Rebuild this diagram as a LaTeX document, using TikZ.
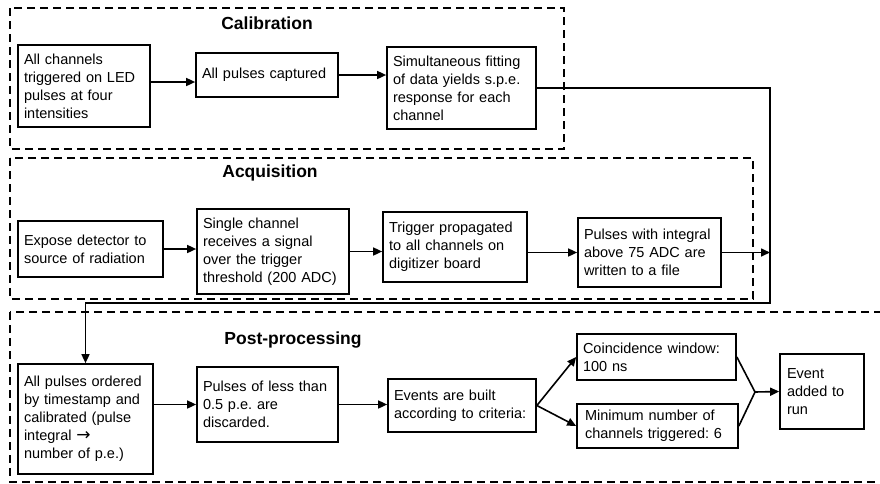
\documentclass[tikz,border=0pt]{standalone}
\usepackage{fontspec}
\setmainfont{Liberation Sans}
\newfontfamily\arrowfont{DejaVu Sans}
\usepackage{tikz}
\usetikzlibrary{arrows.meta}
\frenchspacing
\newcommand{\stageframe}[4]{\draw[frame] ( #1 , #2 ) rectangle ( #3 , #4 );}
\tikzset{
  frame/.style={line width=2pt, dash pattern=on 8pt off 5pt},
  stepbox/.style={draw, line width=1.7pt, align=left, inner sep=6pt,
    font=\fontsize{14.5}{18}\selectfont},
  stagetitle/.style={font=\fontsize{17.5}{20}\selectfont\bfseries},
  flow/.style={line width=1.6pt, -{Triangle[length=9pt,width=8pt]}},
  link/.style={line width=1.6pt}
}

\begin{document}
\begin{tikzpicture}[x=1pt, y=-1pt]
        \useasboundingbox (0,0) rectangle (880,483);
        % frames
        \stageframe{10}{8}{564}{149}
        \stageframe{10}{158}{753}{299}
        \stageframe{10}{312}{900}{482}
        % calibration
        \node[stagetitle] (caltitle) at (267,23) {Calibration};
        \node[stepbox, text width=120pt, minimum height=82pt] (cal1) at (84,86)
          {All channels\\triggered on LED\\pulses at four\\intensities};
        \node[stepbox, text width=130pt, minimum height=44pt] (cal2) at (267,75)
          {All pulses captured};
        \node[stepbox, text width=137pt, minimum height=82pt] (cal3) at (461.5,88)
          {Simultaneous fitting\\of data yields s.p.e.\\response for each\\channel};
        % acquisition
        \node[stagetitle] (acqtitle) at (270,173) {Acquisition};
        \node[stepbox, text width=133pt, minimum height=56pt] (acq1) at (90.5,249)
          {Expose detector to\\source of radiation};
        \node[stepbox, text width=140pt, minimum height=85pt] (acq2) at (273,251.5)
          {Single channel\\receives a signal\\over the trigger\\threshold (200 ADC)};
        \node[stepbox, text width=132pt, minimum height=70pt] (acq3) at (455,247)
          {Trigger propagated\\to all channels on\\digitizer board};
        \node[stepbox, text width=131pt, minimum height=69pt] (acq4) at (649.5,252.5)
          {Pulses with integral\\above 75 ADC are\\written to a file};
        % post-processing
        \node[stagetitle] (pptitle) at (293,340) {Post-processing};
        \node[stepbox, text width=123pt, minimum height=110pt] (pp1) at (85.5,419)
          {All pulses ordered\\by timestamp and\\calibrated (pulse\\integral {\arrowfont\fontsize{17}{18}\selectfont →}\\number of p.e.)};
        \node[stepbox, text width=129pt, minimum height=75pt] (pp2) at (267.5,404.5)
          {Pulses of less than\\0.5 p.e. are\\discarded.};
        \node[stepbox, text width=136pt, minimum height=53pt] (pp3) at (462,405.5)
          {Events are built\\according to criteria:};
        \node[stepbox, text width=147pt, minimum height=46pt] (coin) at (656.5,357)
          {Coincidence window:\\100 ns};
        \node[stepbox, text width=145pt, minimum height=44pt, inner xsep=8pt] (mini) at (657.5,426)
          {Minimum number of\\channels triggered: 6};
        \node[stepbox, text width=70pt, minimum height=75pt, inner xsep=7pt] (evt) at (822,391.5)
          {Event\\added to\\run};
        \coordinate (bus) at (770,303);
        \coordinate (merge) at (755,392);
        % connectors
        \draw[flow] ([yshift=4pt]cal1.east) -- ([yshift=4pt]cal1.east -| cal2.west);
        \draw[flow] (cal2.east) -- (cal2.east -| cal3.west);
        \draw[flow] (cal3.east) -| (bus) -| (pp1.north);
        \draw[flow] (acq1.east) -- (acq1.east -| acq2.west);
        \draw[flow] (acq2.east) -- (acq2.east -| acq3.west);
        \draw[flow] (acq4.west -| acq3.east) -- (acq4.west);
        \draw[flow] (acq4.east) -- (acq4.east -| bus);
        \draw[flow] (pp2.west -| pp1.east) -- (pp2.west);
        \draw[flow] (pp2.east) -- (pp2.east -| pp3.west);
        \draw[flow] (pp3.east) -- (coin.west);
        \draw[flow] (pp3.east) -- (mini.west);
        \draw[link] (coin.east) -- (merge);
        \draw[link] (mini.east) -- (merge);
        \draw[flow] (merge) -- (evt.west);
\end{tikzpicture}
\end{document}
